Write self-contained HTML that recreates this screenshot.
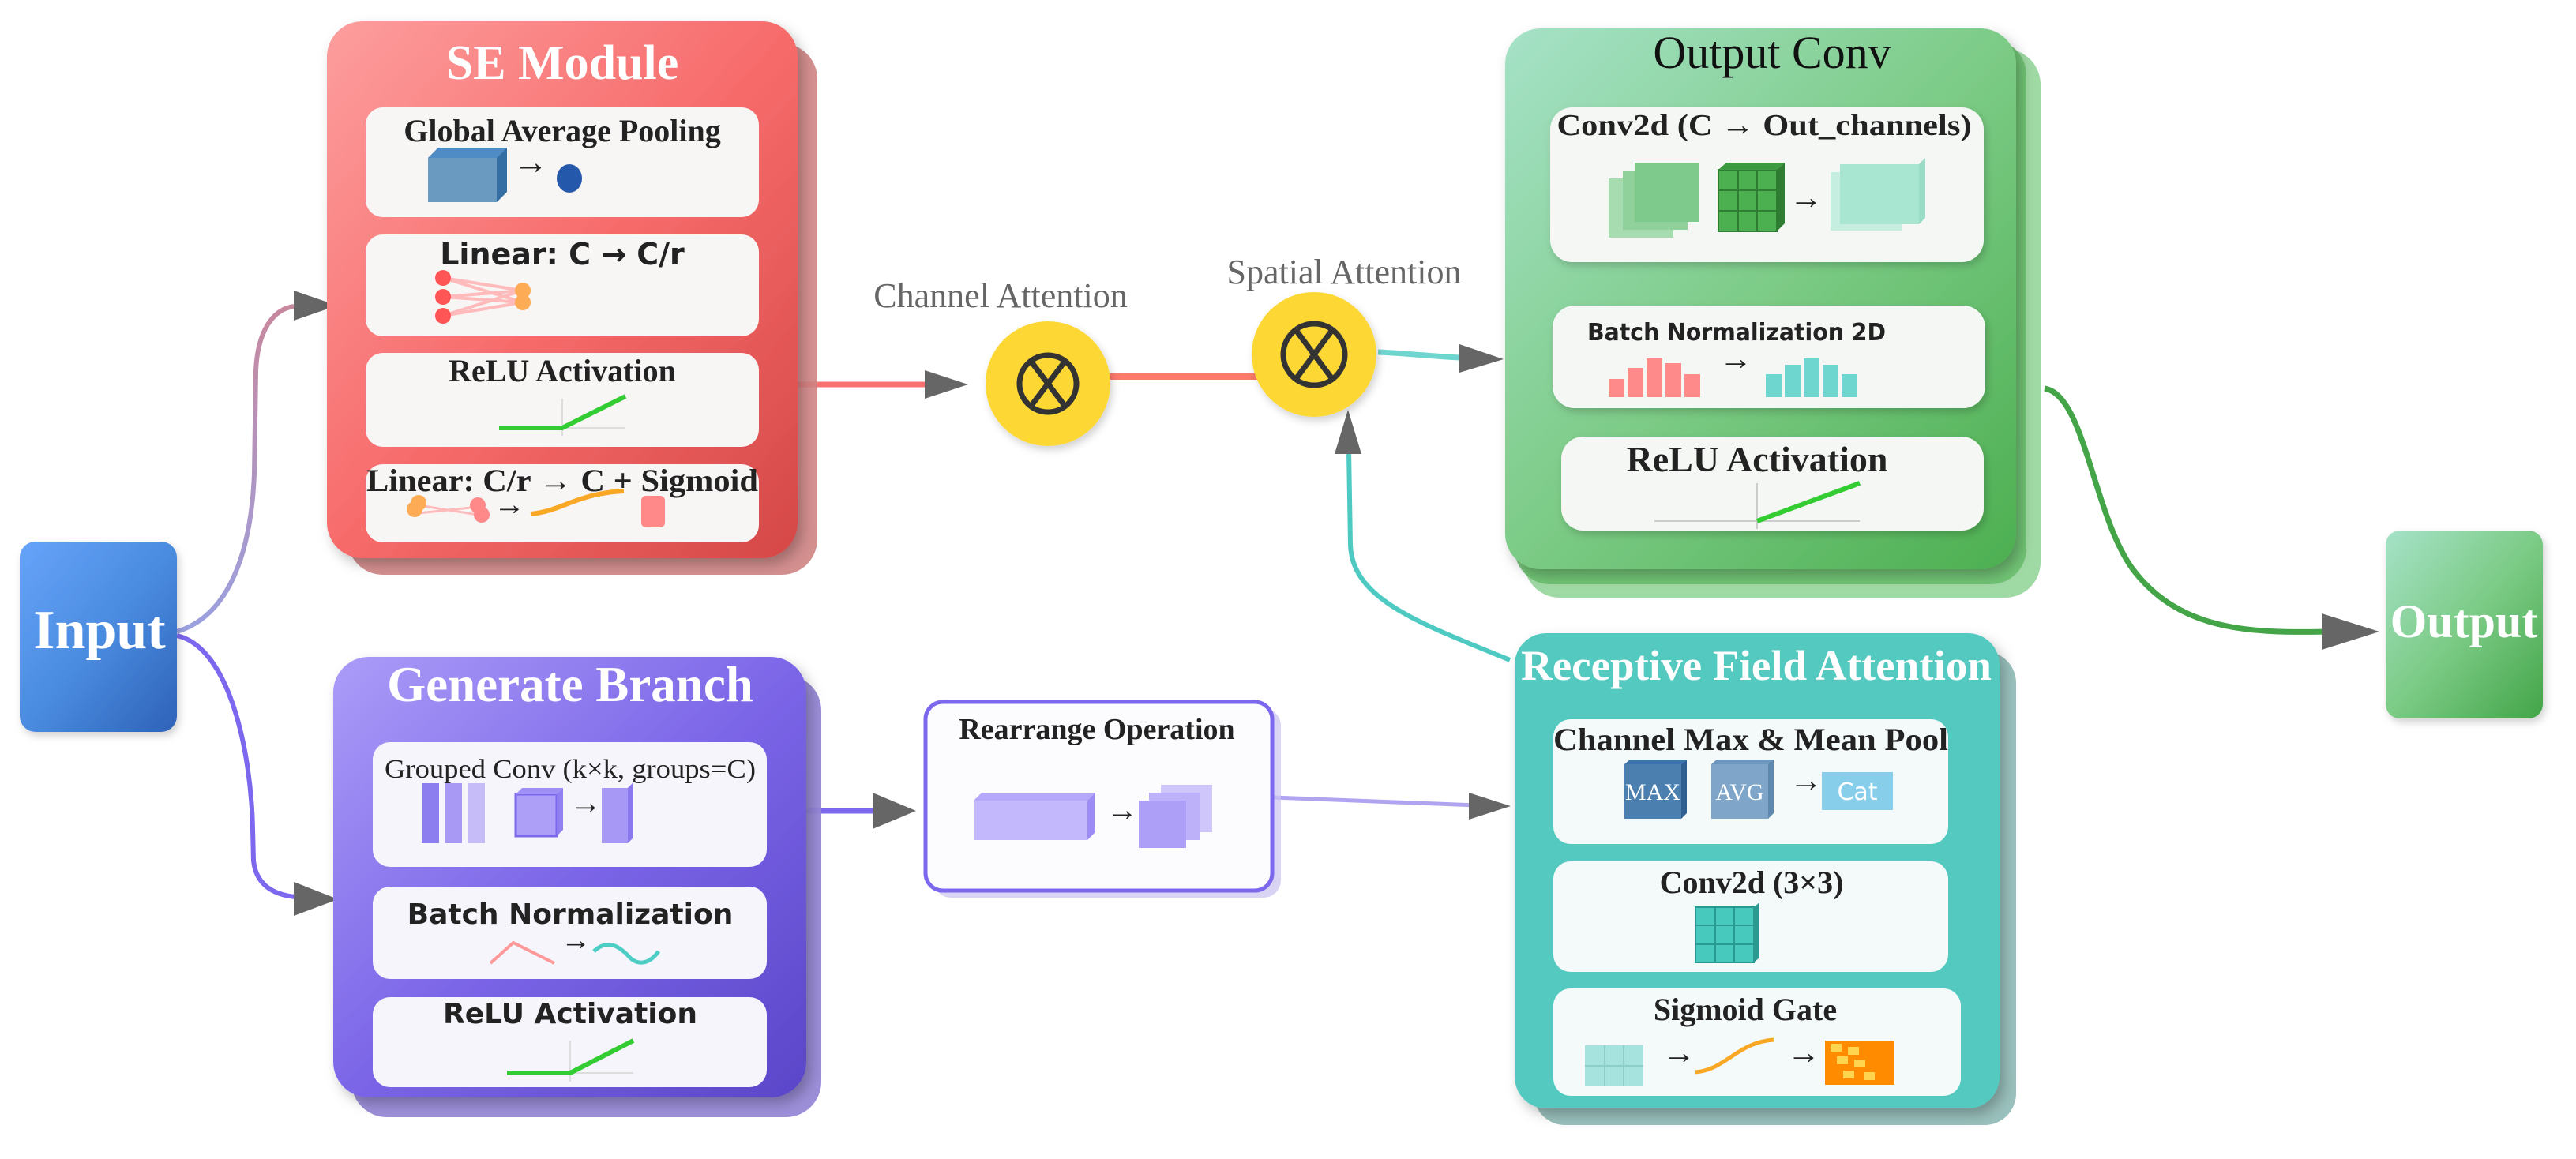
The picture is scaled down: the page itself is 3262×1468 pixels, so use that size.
<!DOCTYPE html>
<html><head><meta charset="utf-8"><style>
html,body{margin:0;padding:0;background:#fff;}
svg{display:block;}
.serif{font-family:"Liberation Serif",serif;}
.sans{font-family:"DejaVu Sans","Liberation Sans",sans-serif;}
</style></head><body>
<svg width="3262" height="1468" viewBox="0 0 3262 1468" xmlns="http://www.w3.org/2000/svg">
<defs>
<linearGradient id="gSE" x1="0" y1="0" x2="1" y2="1"><stop offset="0" stop-color="#fd9e9e"/><stop offset="0.5" stop-color="#f76b6b"/><stop offset="1" stop-color="#d54848"/></linearGradient>
<linearGradient id="gGen" x1="0" y1="0" x2="1" y2="1"><stop offset="0" stop-color="#ab9cf8"/><stop offset="0.5" stop-color="#7c66e8"/><stop offset="1" stop-color="#5a45c8"/></linearGradient>
<linearGradient id="gOC" x1="0" y1="0" x2="1" y2="1"><stop offset="0" stop-color="#a6e2c8"/><stop offset="0.5" stop-color="#7ccb86"/><stop offset="1" stop-color="#4caf50"/></linearGradient>
<linearGradient id="gIn" x1="0" y1="0" x2="1" y2="1"><stop offset="0" stop-color="#67a3fa"/><stop offset="0.5" stop-color="#4a8ce0"/><stop offset="1" stop-color="#2e62b8"/></linearGradient>
<linearGradient id="gOut" x1="0" y1="0" x2="1" y2="1"><stop offset="0" stop-color="#a6e2c8"/><stop offset="0.5" stop-color="#7ccb86"/><stop offset="1" stop-color="#43a548"/></linearGradient>
<linearGradient id="gL1" x1="0" y1="1" x2="0" y2="0"><stop offset="0" stop-color="#9aa0e0"/><stop offset="1" stop-color="#c8889e"/></linearGradient>
<filter id="sh" x="-10%" y="-10%" width="130%" height="130%"><feDropShadow dx="6" dy="8" stdDeviation="8" flood-opacity="0.25"/></filter>
<filter id="sh2" x="-10%" y="-10%" width="130%" height="130%"><feDropShadow dx="3" dy="5" stdDeviation="5" flood-opacity="0.18"/></filter>
</defs>

<!-- connectors -->
<path d="M224,800 C290,780 318,700 322,600 L324,470 C326,420 345,392 372,388" fill="none" stroke="url(#gL1)" stroke-width="6"/>
<polygon points="372,368 427,387 372,406" fill="#666"/>
<path d="M224,805 C290,820 318,950 320,1050 L321,1090 C324,1120 345,1133 374,1136" fill="none" stroke="#7b68ee" stroke-width="6"/>
<polygon points="372,1117 428,1139 372,1160" fill="#666"/>
<line x1="1010" y1="487" x2="1180" y2="487" stroke="#f87171" stroke-width="7"/>
<polygon points="1171,469 1226,487 1171,505" fill="#666"/>
<line x1="1400" y1="477" x2="1595" y2="477" stroke="#fb7a6a" stroke-width="8"/>
<path d="M1745,446 C1790,448 1820,452 1850,453" fill="none" stroke="#6fd6cf" stroke-width="7"/>
<polygon points="1848,436 1904,455 1848,472" fill="#666"/>
<path d="M1912,836 C1800,790 1712,760 1710,690 L1708,570" fill="none" stroke="#4fcac2" stroke-width="6"/>
<polygon points="1690,575 1707,519 1724,575" fill="#666"/>
<line x1="1021" y1="1027" x2="1110" y2="1027" stroke="#7b68ee" stroke-width="7"/>
<polygon points="1105,1004 1160,1027 1105,1050" fill="#666"/>
<path d="M1612,1010 C1720,1014 1820,1018 1870,1020" fill="none" stroke="#b0a4f0" stroke-width="5"/>
<polygon points="1860,1004 1913,1021 1860,1038" fill="#666"/>
<path d="M2589,492 C2640,500 2650,650 2700,720 C2760,800 2850,802 2950,800" fill="none" stroke="#43a548" stroke-width="7"/>
<polygon points="2940,777 3013,800 2940,823" fill="#666"/>

<!-- Input -->
<rect x="25" y="686" width="199" height="241" rx="20" fill="url(#gIn)" filter="url(#sh2)"/>
<text x="126" y="821" text-anchor="middle" class="serif" font-weight="bold" font-size="70" fill="#fff">Input</text>

<!-- SE Module -->
<rect x="440" y="55" width="595" height="673" rx="45" fill="#cf8383" opacity="0.9"/>
<rect x="414" y="27" width="596" height="680" rx="45" fill="url(#gSE)" filter="url(#sh)"/>
<text x="712" y="100" text-anchor="middle" class="serif" font-weight="bold" font-size="62" fill="#fff">SE Module</text>
<g fill="#f8f5f5">
<rect x="463" y="136" width="498" height="139" rx="22"/>
<rect x="463" y="297" width="498" height="129" rx="22"/>
<rect x="463" y="447" width="498" height="119" rx="22"/>
<rect x="463" y="588" width="498" height="99" rx="22"/>
</g>
<text x="712" y="179" text-anchor="middle" class="serif" font-weight="bold" font-size="40" fill="#222">Global Average Pooling</text>
<polygon points="542,200 555,187 642,187 642,243 629,256 542,256" fill="#6a9ac0"/>
<polygon points="629,200 642,187 642,243 629,256" fill="#356ea2"/>
<polygon points="542,200 555,187 642,187 629,200" fill="#4f8bc4"/>
<text x="672" y="220" text-anchor="middle" class="serif" font-size="44" fill="#222">→</text>
<ellipse cx="721" cy="226" rx="16" ry="18" fill="#2458aa"/>
<text x="712" y="335" text-anchor="middle" class="sans" font-weight="bold" font-size="38" fill="#222">Linear: C → C/r</text>
<g stroke="#fbb" stroke-width="4"><line x1="561" y1="352" x2="662" y2="368"/><line x1="561" y1="352" x2="662" y2="383"/><line x1="561" y1="376" x2="662" y2="368"/><line x1="561" y1="376" x2="662" y2="383"/><line x1="561" y1="400" x2="662" y2="368"/><line x1="561" y1="400" x2="662" y2="383"/></g>
<g fill="#f55"><circle cx="561" cy="352" r="10"/><circle cx="561" cy="376" r="10"/><circle cx="561" cy="400" r="10"/></g>
<g fill="#fdac55"><circle cx="662" cy="368" r="10"/><circle cx="662" cy="383" r="10"/></g>
<text x="712" y="483" text-anchor="middle" class="serif" font-weight="bold" font-size="40" fill="#222">ReLU Activation</text>
<line x1="712" y1="505" x2="712" y2="552" stroke="#ddd" stroke-width="2"/><line x1="712" y1="542" x2="792" y2="542" stroke="#ddd" stroke-width="2"/>
<polyline points="632,542 712,542 792,502" fill="none" stroke="#33cc33" stroke-width="6"/>
<text x="712" y="622" text-anchor="middle" class="serif" font-weight="bold" font-size="40" fill="#222" textLength="496" lengthAdjust="spacingAndGlyphs">Linear: C/r → C + Sigmoid</text>
<g stroke="#fbb" stroke-width="3"><line x1="530" y1="640" x2="605" y2="652"/><line x1="530" y1="650" x2="605" y2="642"/></g>
<circle cx="525" cy="645" r="10" fill="#fdac55"/><circle cx="530" cy="637" r="10" fill="#fdac55"/>
<circle cx="605" cy="640" r="10" fill="#f88"/><circle cx="610" cy="652" r="10" fill="#f88"/>
<text x="645" y="652" text-anchor="middle" class="serif" font-size="40" fill="#222">→</text>
<path d="M672,651 C710,648 730,625 790,622" fill="none" stroke="#f9a825" stroke-width="6"/>
<rect x="812" y="628" width="30" height="40" rx="6" fill="#f88"/>

<!-- Generate Branch -->
<rect x="445" y="855" width="595" height="560" rx="45" fill="#9788d6" opacity="0.95"/>
<rect x="422" y="832" width="599" height="558" rx="45" fill="url(#gGen)" filter="url(#sh)"/>
<text x="722" y="888" text-anchor="middle" class="serif" font-weight="bold" font-size="63" fill="#fff">Generate Branch</text>
<g fill="#f6f5fc">
<rect x="472" y="940" width="499" height="158" rx="22"/>
<rect x="472" y="1123" width="499" height="117" rx="22"/>
<rect x="472" y="1263" width="499" height="114" rx="22"/>
</g>
<text x="722" y="985" text-anchor="middle" class="serif" font-size="34" fill="#222" textLength="470" lengthAdjust="spacingAndGlyphs">Grouped Conv (k×k, groups=C)</text>
<rect x="534" y="992" width="22" height="76" fill="#8d7ef0"/><rect x="563" y="992" width="22" height="76" fill="#a89af4"/><rect x="592" y="992" width="22" height="76" fill="#c6bdf8"/>
<rect x="653" y="1006" width="52" height="53" fill="#ad9ff8" stroke="#7b68ee" stroke-width="3"/>
<polygon points="653,1006 661,998 713,998 705,1006" fill="#9d8ff4"/><polygon points="705,1006 713,998 713,1051 705,1059" fill="#8f7ff0"/>
<text x="742" y="1030" text-anchor="middle" class="serif" font-size="40" fill="#222">→</text>
<rect x="762" y="998" width="33" height="70" fill="#a898f6"/><polygon points="795,998 801,992 801,1062 795,1068" fill="#8a78ee"/>
<text x="722" y="1170" text-anchor="middle" class="sans" font-weight="bold" font-size="36" fill="#222">Batch Normalization</text>
<path d="M621,1220 L650,1194 L702,1220" fill="none" stroke="#f99" stroke-width="4"/>
<text x="729" y="1203" text-anchor="middle" class="serif" font-size="38" fill="#222">→</text>
<path d="M752,1205 C770,1188 785,1200 795,1210 C805,1222 820,1224 834,1205" fill="none" stroke="#4ecdc4" stroke-width="5"/>
<text x="722" y="1296" text-anchor="middle" class="sans" font-weight="bold" font-size="36" fill="#222">ReLU Activation</text>
<line x1="722" y1="1318" x2="722" y2="1370" stroke="#ddd" stroke-width="2"/><line x1="722" y1="1359" x2="802" y2="1359" stroke="#ddd" stroke-width="2"/>
<polyline points="642,1359 722,1359 802,1318" fill="none" stroke="#33cc33" stroke-width="6"/>

<!-- Rearrange -->
<rect x="1182" y="897" width="440" height="240" rx="22" fill="#c9c2f0" opacity="0.7"/>
<rect x="1172" y="889" width="439" height="239" rx="22" fill="#fcfcff" stroke="#7b68ee" stroke-width="5"/>
<text x="1389" y="936" text-anchor="middle" class="serif" font-weight="bold" font-size="38" fill="#222">Rearrange Operation</text>
<rect x="1233" y="1014" width="144" height="50" fill="#c3b8fb"/>
<polygon points="1233,1014 1243,1004 1387,1004 1377,1014" fill="#b5a8fa"/><polygon points="1377,1014 1387,1004 1387,1054 1377,1064" fill="#9c8cf3"/>
<text x="1421" y="1039" text-anchor="middle" class="serif" font-size="40" fill="#222">→</text>
<rect x="1470" y="994" width="65" height="60" fill="#cfc6fb"/><rect x="1455" y="1004" width="65" height="60" fill="#bdb2fa"/><rect x="1442" y="1014" width="60" height="60" fill="#ad9ff8"/>

<!-- Circles -->
<text x="1267" y="389" text-anchor="middle" class="serif" font-size="44" fill="#666">Channel Attention</text>
<text x="1702" y="359" text-anchor="middle" class="serif" font-size="44" fill="#666">Spatial Attention</text>
<circle cx="1327" cy="486" r="79" fill="#fdd835" filter="url(#sh2)"/>
<circle cx="1664" cy="449" r="79" fill="#fdd835" filter="url(#sh2)"/>
<g fill="none" stroke="#333" stroke-width="7">
<circle cx="1327" cy="486" r="36"/><line x1="1305" y1="457" x2="1349" y2="515"/><line x1="1349" y1="457" x2="1305" y2="515"/>
<circle cx="1664" cy="449" r="39"/><line x1="1641" y1="418" x2="1687" y2="480"/><line x1="1687" y1="418" x2="1641" y2="480"/>
</g>

<!-- Output Conv -->
<rect x="1930" y="62" width="654" height="695" rx="45" fill="#7fcc85" opacity="0.75"/>
<rect x="1918" y="50" width="648" height="690" rx="45" fill="#6cc070" opacity="0.9"/>
<rect x="1906" y="36" width="647" height="685" rx="45" fill="url(#gOC)" filter="url(#sh)"/>
<text x="2244" y="86" text-anchor="middle" class="serif" font-size="58" fill="#111">Output Conv</text>
<g fill="#f4f7f4" filter="url(#sh2)">
<rect x="1963" y="136" width="549" height="196" rx="28"/>
<rect x="1966" y="387" width="548" height="130" rx="28"/>
<rect x="1977" y="553" width="535" height="119" rx="28"/>
</g>
<text x="2234" y="171" text-anchor="middle" class="serif" font-weight="bold" font-size="38" fill="#222" textLength="525" lengthAdjust="spacingAndGlyphs">Conv2d (C → Out_channels)</text>
<rect x="2037" y="226" width="82" height="75" fill="#a6dcb0"/><rect x="2055" y="216" width="82" height="75" fill="#8fd09b"/><rect x="2070" y="206" width="82" height="75" fill="#7ec98c"/>
<rect x="2176" y="215" width="74" height="78" fill="#4caf50" stroke="#2e7d32" stroke-width="2"/>
<g stroke="#2e7d32" stroke-width="2"><line x1="2201" y1="215" x2="2201" y2="293"/><line x1="2225" y1="215" x2="2225" y2="293"/><line x1="2176" y1="241" x2="2250" y2="241"/><line x1="2176" y1="267" x2="2250" y2="267"/></g>
<polygon points="2250,215 2260,206 2260,283 2250,293" fill="#2e7d32"/><polygon points="2176,215 2186,206 2260,206 2250,215" fill="#3c9a40"/>
<text x="2287" y="264" text-anchor="middle" class="serif" font-size="42" fill="#222">→</text>
<rect x="2318" y="218" width="90" height="74" fill="#c6eee0"/><rect x="2330" y="208" width="100" height="76" fill="#a9e6d2"/><polygon points="2430,208 2438,200 2438,276 2430,284" fill="#9adcc5"/>
<text x="2010" y="431" class="sans" font-weight="bold" font-size="30" fill="#222" textLength="378" lengthAdjust="spacingAndGlyphs">Batch Normalization 2D</text>
<g fill="#ff8a8a"><rect x="2037" y="480" width="20" height="23"/><rect x="2061" y="466" width="20" height="37"/><rect x="2085" y="454" width="20" height="49"/><rect x="2109" y="460" width="20" height="43"/><rect x="2133" y="474" width="20" height="29"/></g>
<text x="2198" y="468" text-anchor="middle" class="serif" font-size="42" fill="#222">→</text>
<g fill="#6fd6cf"><rect x="2236" y="474" width="20" height="29"/><rect x="2260" y="462" width="20" height="41"/><rect x="2284" y="454" width="20" height="49"/><rect x="2308" y="462" width="20" height="41"/><rect x="2332" y="474" width="20" height="29"/></g>
<text x="2225" y="597" text-anchor="middle" class="serif" font-weight="bold" font-size="46" fill="#222">ReLU Activation</text>
<line x1="2225" y1="612" x2="2225" y2="670" stroke="#ccc" stroke-width="2"/><line x1="2095" y1="660" x2="2355" y2="660" stroke="#ccc" stroke-width="2"/>
<line x1="2225" y1="660" x2="2355" y2="612" stroke="#33cc33" stroke-width="6"/>

<!-- RFA -->
<rect x="1942" y="825" width="611" height="600" rx="40" fill="#8fbab6" opacity="0.9"/>
<rect x="1918" y="802" width="614" height="602" rx="40" fill="#53c9c0" filter="url(#sh)"/>
<text x="2224" y="861" text-anchor="middle" class="serif" font-weight="bold" font-size="54" fill="#fff" textLength="596" lengthAdjust="spacingAndGlyphs">Receptive Field Attention</text>
<g fill="#f4fafa">
<rect x="1967" y="911" width="500" height="158" rx="22"/>
<rect x="1967" y="1091" width="500" height="140" rx="22"/>
<rect x="1967" y="1252" width="516" height="136" rx="22"/>
</g>
<text x="2217" y="950" text-anchor="middle" class="serif" font-weight="bold" font-size="40" fill="#222" textLength="500" lengthAdjust="spacingAndGlyphs">Channel Max &amp; Mean Pool</text>
<rect x="2057" y="968" width="72" height="69" fill="#4a7fb0"/><polygon points="2129,968 2136,962 2136,1030 2129,1037" fill="#2e5f90"/><polygon points="2057,968 2064,962 2136,962 2129,968" fill="#3d74a8"/>
<text x="2093" y="1013" text-anchor="middle" class="serif" font-size="30" fill="#fff">MAX</text>
<rect x="2167" y="968" width="72" height="69" fill="#7fa6c8"/><polygon points="2239,968 2246,962 2246,1030 2239,1037" fill="#5e88ae"/><polygon points="2167,968 2174,962 2246,962 2239,968" fill="#6c96bd"/>
<text x="2203" y="1013" text-anchor="middle" class="serif" font-size="30" fill="#fff">AVG</text>
<text x="2287" y="1002" text-anchor="middle" class="serif" font-size="42" fill="#222">→</text>
<rect x="2307" y="978" width="90" height="48" fill="#87ceeb"/>
<text x="2352" y="1013" text-anchor="middle" class="sans" font-size="30" fill="#fff">Cat</text>
<text x="2218" y="1131" text-anchor="middle" class="serif" font-weight="bold" font-size="40" fill="#222">Conv2d (3×3)</text>
<rect x="2147" y="1149" width="74" height="70" fill="#48c9bd" stroke="#2a9a90" stroke-width="2"/>
<g stroke="#2a9a90" stroke-width="2"><line x1="2172" y1="1149" x2="2172" y2="1219"/><line x1="2196" y1="1149" x2="2196" y2="1219"/><line x1="2147" y1="1172" x2="2221" y2="1172"/><line x1="2147" y1="1196" x2="2221" y2="1196"/></g>
<polygon points="2221,1149 2228,1143 2228,1213 2221,1219" fill="#2a9a90"/>
<text x="2210" y="1292" text-anchor="middle" class="serif" font-weight="bold" font-size="40" fill="#222">Sigmoid Gate</text>
<rect x="2007" y="1324" width="74" height="52" fill="#a6e3de"/>
<g stroke="#8ccfc9" stroke-width="2"><line x1="2032" y1="1324" x2="2032" y2="1376"/><line x1="2056" y1="1324" x2="2056" y2="1376"/><line x1="2007" y1="1350" x2="2081" y2="1350"/></g>
<text x="2126" y="1347" text-anchor="middle" class="serif" font-size="42" fill="#222">→</text>
<path d="M2147,1358 C2185,1355 2200,1320 2246,1317" fill="none" stroke="#f9a825" stroke-width="5"/>
<text x="2284" y="1347" text-anchor="middle" class="serif" font-size="42" fill="#222">→</text>
<rect x="2311" y="1318" width="88" height="56" fill="#ff8c00"/>
<g fill="#ffd54f"><rect x="2318" y="1322" width="14" height="10"/><rect x="2340" y="1326" width="14" height="10"/><rect x="2326" y="1338" width="14" height="10"/><rect x="2348" y="1342" width="14" height="10"/><rect x="2334" y="1356" width="14" height="10"/><rect x="2360" y="1358" width="14" height="10"/></g>

<!-- Output -->
<rect x="3021" y="672" width="199" height="238" rx="18" fill="url(#gOut)" filter="url(#sh2)"/>
<text x="3120" y="807" text-anchor="middle" class="serif" font-weight="bold" font-size="60" fill="#fff">Output</text>
</svg>
</body></html>
